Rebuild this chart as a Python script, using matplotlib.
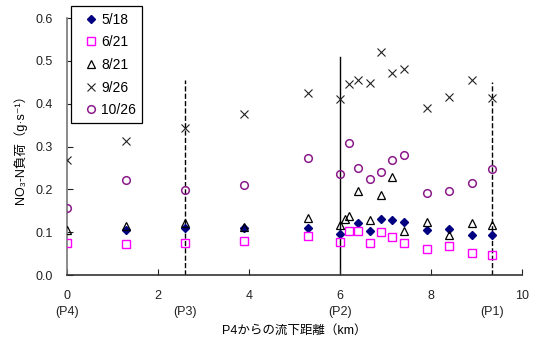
import numpy as np
import matplotlib
matplotlib.use('Agg')
import matplotlib.pyplot as plt

plt.rcParams['font.family'] = ['Liberation Sans', 'Noto Sans CJK JP', 'DejaVu Sans']

nan = np.nan

# distance from P4 (km) for each sampling point
dist = [0, 1.3, 2.6, 3.9, 5.3, 6.0, 6.1, 6.2, 6.4, 6.65, 6.9, 7.15, 7.4, 7.9, 8.4, 8.9, 9.35]

may18 = [nan, 0.105, 0.110, 0.111, 0.110, 0.096, nan, nan, 0.122, 0.104, 0.130, 0.128, 0.124, 0.105, 0.108, 0.094, 0.094]
jun21 = [0.076, 0.072, 0.076, 0.079, 0.091, 0.078, nan, 0.103, 0.103, 0.076, 0.100, 0.089, 0.074, 0.061, 0.069, 0.051, 0.046]
aug21 = [0.106, 0.114, 0.122, 0.113, 0.134, 0.118, 0.130, 0.139, 0.197, 0.128, 0.188, 0.229, 0.103, 0.124, 0.093, 0.121, 0.117]
sep26 = [0.268, 0.312, 0.343, 0.375, 0.426, 0.410, nan, 0.445, 0.456, 0.448, 0.520, 0.472, 0.482, 0.390, 0.416, 0.455, 0.413]
oct26 = [0.157, 0.221, 0.198, 0.211, 0.273, 0.235, nan, 0.309, 0.249, 0.224, 0.241, 0.268, 0.280, 0.192, 0.196, 0.215, 0.247]

# station markers: (position, label, line style, line top)
stations = [(0, '(P4)', None, 0), (2.6, '(P3)', '--', 0.455), (6.0, '(P2)', '-', 0.51), (9.35, '(P1)', '--', 0.45)]

fig = plt.figure(figsize=(5.36, 3.43), dpi=100)
ax = fig.add_axes([0.125, 0.198, 0.849, 0.7495])

for x, lab, ls, top in stations:
    if ls:
        ax.plot([x, x], [0, top], color='black', linestyle=ls, linewidth=1.0, zorder=1)
    ax.text(x, -0.085, lab, ha='center', va='center', fontsize=9, color='#222222')

ax.plot(dist, may18, linestyle='none', marker='D', markersize=4.5, color='#000080', label='5/18', zorder=3)
ax.plot(dist, jun21, linestyle='none', marker='s', markersize=5.5, markerfacecolor='none',
        markeredgecolor='#ff00ff', markeredgewidth=1.0, label='6/21', zorder=3)
ax.plot(dist, aug21, linestyle='none', marker='^', markersize=6, markerfacecolor='none',
        markeredgecolor='black', markeredgewidth=0.9, label='8/21', zorder=3)
ax.plot(dist, sep26, linestyle='none', marker='x', markersize=6, color='#222222',
        markeredgewidth=0.8, label='9/26', zorder=3)
ax.plot(dist, oct26, linestyle='none', marker='o', markersize=5.5, markerfacecolor='none',
        markeredgecolor='#8b1a8b', markeredgewidth=1.1, label='10/26', zorder=3)

ax.set_xlim(0, 10)
ax.set_ylim(0, 0.6)
ax.set_xticks(np.arange(0, 11, 2))
ax.set_yticks(np.arange(0, 0.61, 0.1))
ax.set_yticklabels([f'{v:.1f}' for v in np.arange(0, 0.61, 0.1)])

for s in ['top', 'right']:
    ax.spines[s].set_visible(False)
ax.spines['left'].set_color('#777777')
ax.spines['bottom'].set_color('#333333')
ax.spines['left'].set_linewidth(1.2)
ax.spines['bottom'].set_linewidth(1.2)
ax.tick_params(direction='in', length=4, labelsize=9, colors='#222222')
ax.tick_params(axis='x', pad=11)
ax.tick_params(axis='y', pad=10)

ax.set_ylabel('NO₃-N負荷（g·s⁻¹）', fontsize=9, labelpad=6)
ax.set_xlabel('P4からの流下距離（km）', fontsize=9, labelpad=16)

leg = ax.legend(loc='upper left', bbox_to_anchor=(0.008, 1.045), fontsize=10, frameon=True,
                fancybox=False, edgecolor='black', framealpha=1, handlelength=2.0,
                handletextpad=-0.25, labelspacing=0.62, borderpad=0.45, borderaxespad=0)
leg.get_frame().set_linewidth(0.9)

fig.savefig('out.png', dpi=100)
